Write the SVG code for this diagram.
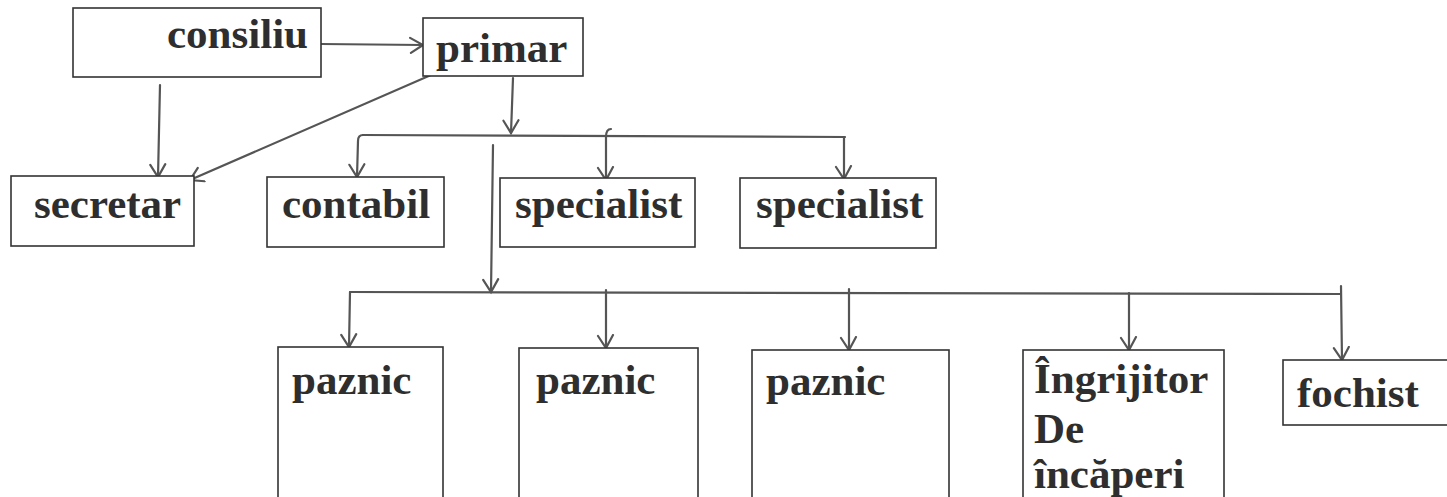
<svg xmlns="http://www.w3.org/2000/svg" width="1447" height="497" viewBox="0 0 1447 497">
<style>
.box{fill:#fff;stroke:#333;stroke-width:1.6}
.t{font-family:"Liberation Serif","Times New Roman",serif;font-weight:bold;font-size:43px;fill:#2e2e2e}
.c{fill:none;stroke:#555;stroke-width:2.2;stroke-linecap:round}
</style>
<defs>
<marker id="ah" viewBox="-14 -12 28 24" markerWidth="28" markerHeight="24" refX="0" refY="0" orient="auto" markerUnits="userSpaceOnUse">
<path d="M-13,-7 L0,0 L-12,8" fill="none" stroke="#555" stroke-width="2.2" stroke-linecap="round"/>
</marker>
</defs>
<rect width="1447" height="497" fill="#fff"/>
<g id="connectors">
<path class="c" d="M321,44 L423,45" marker-end="url(#ah)"/>
<path class="c" d="M160,85 L158,177" marker-end="url(#ah)"/>
<path class="c" d="M470,58 L190,180" marker-end="url(#ah)"/>
<path class="c" d="M466,56 L478,75"/>
<path class="c" d="M513,78 L511,133" marker-end="url(#ah)"/>
<path class="c" d="M363,135 L845,137"/>
<path class="c" d="M363,135 Q358,135 358,141 L357,177" marker-end="url(#ah)"/>
<path class="c" d="M611,129 Q606,129 606,137 L606,180" marker-end="url(#ah)"/>
<path class="c" d="M844,137 L844,179" marker-end="url(#ah)"/>
<path class="c" d="M493,145 L491,292" marker-end="url(#ah)"/>
<path class="c" d="M350,292 L1340,294"/>
<path class="c" d="M350,292 L349,347" marker-end="url(#ah)"/>
<path class="c" d="M606,290 L606,348" marker-end="url(#ah)"/>
<path class="c" d="M849,289 L849,350" marker-end="url(#ah)"/>
<path class="c" d="M1129,293 L1129,350" marker-end="url(#ah)"/>
<path class="c" d="M1341,286 L1342,360" marker-end="url(#ah)"/>
</g>
<g id="consiliu"><rect class="box" x="73" y="8" width="248" height="69"/><text class="t" x="167" y="48">consiliu</text></g>
<g id="primar"><rect class="box" x="423" y="18" width="160" height="58"/><text class="t" x="436" y="62">primar</text></g>
<g id="secretar"><rect class="box" x="11" y="176" width="183" height="70"/><text class="t" x="34" y="218">secretar</text></g>
<g id="contabil"><rect class="box" x="267" y="177" width="177" height="70"/><text class="t" x="282" y="218">contabil</text></g>
<g id="specialist1"><rect class="box" x="500" y="178" width="195" height="69"/><text class="t" x="515" y="218">specialist</text></g>
<g id="specialist2"><rect class="box" x="740" y="178" width="196" height="70"/><text class="t" x="756" y="218">specialist</text></g>
<g id="paznic1"><rect class="box" x="278" y="347" width="165" height="160"/><text class="t" x="292" y="394">paznic</text></g>
<g id="paznic2"><rect class="box" x="519" y="348" width="179" height="160"/><text class="t" x="536" y="394">paznic</text></g>
<g id="paznic3"><rect class="box" x="752" y="350" width="197" height="160"/><text class="t" x="766" y="395">paznic</text></g>
<g id="ingrijitor"><rect class="box" x="1023" y="350" width="201" height="160"/><text class="t" x="1034" y="393">Îngrijitor</text><text class="t" x="1034" y="443">De</text><text class="t" x="1034" y="488">încăperi</text></g>
<g id="fochist"><rect class="box" x="1283" y="360" width="170" height="65"/><text class="t" x="1297" y="407">fochist</text></g>
</svg>
